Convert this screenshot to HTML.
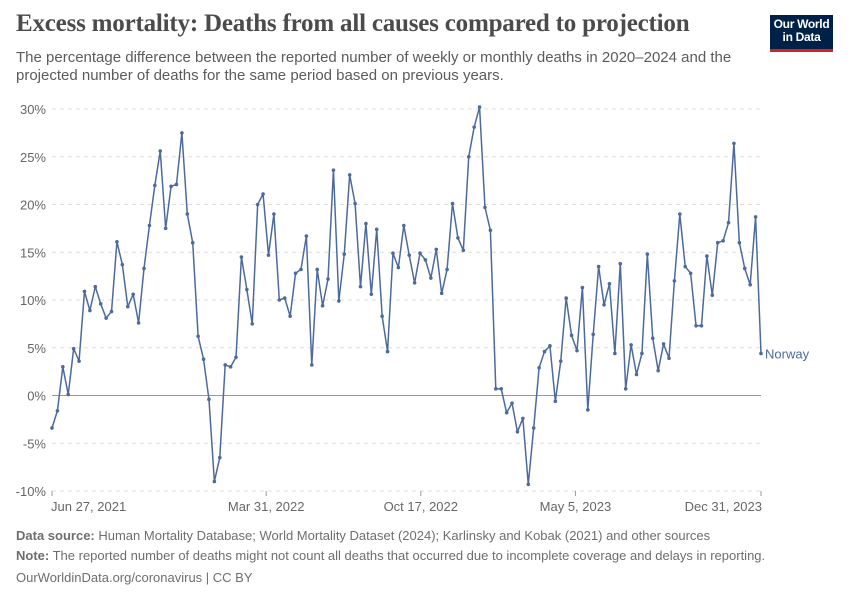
<!DOCTYPE html>
<html><head><meta charset="utf-8"><style>
body{margin:0;background:#fff;font-family:"Liberation Sans",sans-serif;}
#wrap{position:relative;width:850px;height:600px;overflow:hidden;}
.t{position:absolute;white-space:nowrap;}
</style></head><body>
<div id="wrap">
<div class="t" style="left:16px;top:10px;font-family:'Liberation Serif',serif;font-size:25px;font-weight:bold;color:#4b4b4b;letter-spacing:-0.2px">Excess mortality: Deaths from all causes compared to projection</div>
<div class="t" style="left:16px;top:49px;font-size:15px;line-height:18px;color:#5b5b5b">The percentage difference between the reported number of weekly or monthly deaths in 2020–2024 and the<br>projected number of deaths for the same period based on previous years.</div>
<div style="position:absolute;left:770px;top:15px;width:63px;height:37px;background:#002147;border-bottom:3px solid #ce261e;color:#fff;font-size:12px;font-weight:bold;line-height:13px;text-align:center;padding-top:3px;box-sizing:border-box;letter-spacing:-0.3px">Our World<br>in Data</div>
<svg id="chart" width="850" height="600" style="position:absolute;left:0;top:0"></svg>
<div class="t" style="left:16px;top:528px;font-size:13px;color:#6e6e6e"><b>Data source:</b> Human Mortality Database; World Mortality Dataset (2024); Karlinsky and Kobak (2021) and other sources</div>
<div class="t" style="left:16px;top:548px;font-size:13px;color:#6e6e6e"><b>Note:</b> The reported number of deaths might not count all deaths that occurred due to incomplete coverage and delays in reporting.</div>
<div class="t" style="left:16px;top:570px;font-size:13px;color:#6e6e6e">OurWorldinData.org/coronavirus | CC BY</div>
</div>
<script>
const values=[-3.4,-1.6,3.0,0.1,4.9,3.6,10.9,8.9,11.4,9.6,8.1,8.8,16.1,13.7,9.3,10.6,7.6,13.3,17.8,22.0,25.6,17.5,21.9,22.1,27.5,19.0,16.0,6.2,3.8,-0.4,-9.0,-6.5,3.2,3.0,4.0,14.5,11.1,7.5,20.0,21.1,14.7,19.0,10.0,10.2,8.3,
12.8,13.2,16.7,3.2,13.2,9.4,12.2,23.6,9.9,14.8,23.1,20.1,11.4,18.0,10.6,17.4,8.3,4.6,14.9,13.4,17.8,14.7,11.8,14.9,14.2,12.3,15.3,10.7,13.2,20.1,16.5,15.2,25.0,28.1,30.2,19.7,17.3,0.7,0.7,-1.8,-0.8,-3.8,-2.4,-9.3,
-3.4,2.9,4.6,5.2,-0.6,3.6,10.2,6.3,4.7,11.3,-1.5,6.4,13.5,9.5,11.7,4.4,13.8,0.7,5.3,2.2,4.4,14.8,6.0,2.6,5.4,3.9,12.0,19.0,13.5,12.8,7.3,7.3,14.6,10.5,16.0,16.2,18.1,26.4,16.0,13.3,11.6,18.7,4.4];
const startDate="2021-06-27";
const yTicks=[-10,-5,0,5,10,15,20,25,30];
const xTickDates=["2021-06-27","2022-03-31","2022-10-17","2023-05-05","2023-12-31"];
const xTickLabels=["Jun 27, 2021","Mar 31, 2022","Oct 17, 2022","May 5, 2023","Dec 31, 2023"];
const NS="http://www.w3.org/2000/svg";
const svg=document.getElementById('chart');
const DAY=86400000, t0=Date.parse(startDate), tEnd=t0+(values.length-1)*7*DAY;
const X0=52,X1=761,Y0=491,Y1=109;
const x=t=>X0+(t-t0)/(tEnd-t0)*(X1-X0);
const y=v=>Y0+(v-(-10))/(40)*(Y1-Y0);
function mk(tag,attrs){const e=document.createElementNS(NS,tag);for(const k in attrs)e.setAttribute(k,attrs[k]);svg.appendChild(e);return e;}
yTicks.forEach(v=>{
 const l=mk('line',{x1:X0,x2:X1,y1:y(v),y2:y(v),stroke:v===0?'#9a9a9a':'#dddddd','stroke-dasharray':v===0?'':'4,4','stroke-width':1});
 
 
 const t=mk('text',{x:46,y:y(v)+5,'text-anchor':'end','font-size':13,fill:'#666','font-family':'Liberation Sans, sans-serif'});
 t.textContent=v+'%';
 
 
});
xTickDates.forEach((d,i)=>{
 const xx=x(Date.parse(d));
 const l=mk('line',{x1:xx,x2:xx,y1:491,y2:496,stroke:'#999'});
 
 
 const anchor=i===0?'start':(i===xTickDates.length-1?'end':'middle');
 const t=mk('text',{x:i===0?xx-1:(i===xTickDates.length-1?xx+1:xx),y:511,'text-anchor':anchor,'font-size':13,fill:'#666','font-family':'Liberation Sans, sans-serif'});
 t.textContent=xTickLabels[i];
 
 
});
const pts=values.map((v,i)=>[x(t0+i*7*DAY),y(v)]);
const path=mk('polyline',{points:pts.map(p=>p.join(',')).join(' '),fill:'none',stroke:'#4c6a9c','stroke-width':1.5,'stroke-linejoin':'round'});


pts.forEach(p=>{
 const c=mk('circle',{cx:p[0],cy:p[1],r:1.8,fill:'#4c6a9c'});
 
 
});
const last=pts[pts.length-1];
const lab=mk('text',{x:last[0]+4,y:last[1]+5,'font-size':13,fill:'#4c6a9c','font-family':'Liberation Sans, sans-serif'});
lab.textContent='Norway';


</script>
</body></html>
